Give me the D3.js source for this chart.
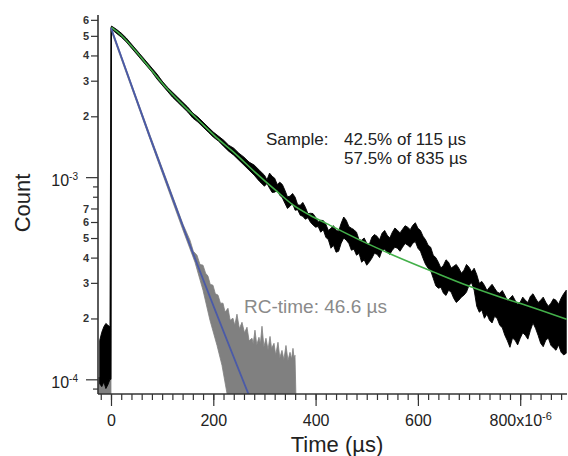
<!DOCTYPE html>
<html>
<head>
<meta charset="utf-8">
<title>Luminescence decay</title>
<script src="https://d3js.org/d3.v7.min.js"></script>
<style>
body{margin:0;background:#fff}
svg{font-family:"Liberation Sans",Arial,sans-serif}
</style>
</head>
<body>
<div id="chart"></div>
<script>
// ---- data (time in µs, counts in units of 10^-3) ----
var sampleTime = [-22,-18,-14,-10,-6,-2,0,1,10,20,30,40,50,60,70,80,90,100,110,120,130,140,150,160,170,180,190,200,
  210,220,230,240,250,260,270,280,290,
  300,305,310,315,320,325,330,335,340,345,350,355,360,365,370,375,380,385,390,395,400,405,410,415,420,425,430,435,440,445,
  450,455,460,465,470,475,480,485,490,495,500,505,510,515,520,525,530,535,540,545,550,555,560,565,570,575,580,585,590,595,
  600,605,610,615,620,625,630,635,640,645,650,655,660,665,670,675,680,685,690,695,700,705,710,715,720,725,730,735,740,745,
  750,755,760,765,770,775,780,785,790,795,800,805,810,815,820,825,830,835,840,845,850,855,860,865,870,875,880,885,890];
var sampleHigh = [0.156,0.171,0.182,0.189,0.185,0.182,5.45,5.59,5.40,5.16,4.876,4.554,4.254,3.973,3.711,3.464,3.235,2.987,2.790,2.635,2.490,2.352,2.222,2.075,1.982,1.872,1.768,1.671,
  1.596,1.525,1.440,1.391,1.314,1.256,1.187,1.147,1.083,
  1.023,0.97,1.047,1.01,0.988,0.92,0.944,0.92,0.862,0.80,0.805,0.83,0.796,0.73,0.726,0.75,0.710,0.66,0.663,0.66,0.633,0.60,0.612,0.61,0.585,0.545,0.559,0.575,0.5465,0.54,
  0.5914,0.635,0.612,0.57,0.559,0.55,0.534,0.49,0.4877,0.50,0.4713,0.465,0.5047,0.52,0.5104,0.49,0.528,0.545,0.5163,0.50,0.534,0.56,0.5465,0.53,0.5527,0.575,0.5655,0.55,0.578,0.595,
  0.559,0.545,0.5104,0.49,0.4607,0.45,0.4111,0.40,0.3795,0.355,0.3667,0.39,0.3795,0.355,0.3625,0.37,0.3544,0.335,0.3464,0.37,0.3584,0.34,0.3544,0.33,0.2987,0.305,0.292,0.275,0.2854,0.295,
  0.2822,0.27,0.2665,0.275,0.2606,0.245,0.2518,0.26,0.2461,0.235,0.2406,0.255,0.2461,0.24,0.2576,0.265,0.2518,0.24,0.2461,0.255,0.2406,0.23,0.2378,0.25,0.2461,0.235,0.2518,0.265,0.2758];
var sampleLow = [0.095,0.092,0.097,0.090,0.094,0.100,0.100,5.40,5.16,4.93,4.659,4.352,4.065,3.796,3.546,3.310,3.056,2.854,2.666,2.490,2.352,2.222,2.099,1.959,1.872,1.768,1.671,1.578,
  1.508,1.423,1.345,1.285,1.214,1.147,1.083,1.023,0.955,
  0.902,0.93,0.882,0.84,0.843,0.86,0.814,0.79,0.743,0.70,0.718,0.74,0.686,0.69,0.648,0.64,0.619,0.63,0.598,0.58,0.5655,0.57,0.534,0.55,0.5047,0.49,0.4451,0.46,0.4253,0.43,
  0.4713,0.50,0.4877,0.47,0.4351,0.44,0.411,0.42,0.3795,0.39,0.3667,0.38,0.3971,0.42,0.4157,0.40,0.4351,0.44,0.4253,0.415,0.4351,0.45,0.4451,0.43,0.4502,0.47,0.4607,0.45,0.4713,0.48,
  0.4451,0.43,0.3971,0.37,0.3544,0.345,0.3162,0.29,0.2822,0.285,0.2665,0.26,0.2758,0.27,0.2518,0.24,0.2461,0.255,0.2606,0.27,0.292,0.30,0.2758,0.23,0.2147,0.22,0.2004,0.21,0.1959,0.19,
  0.205,0.20,0.1851,0.18,0.1651,0.155,0.144,0.16,0.156,0.148,0.1596,0.17,0.1651,0.158,0.1748,0.19,0.1788,0.165,0.1508,0.145,0.156,0.16,0.1474,0.143,0.1392,0.148,0.1361,0.132,0.1345];

// RC reference trace (grey), upper and lower edge
var rcUpperTime = [-25,-0.5,0,76.2,140.8,154.4,161,168.1,174,179.9,185,189.6,194,199.4,204,209.2,214,219,223,228.7,233,238.5,242,246.3,251,256.1,261,265.9,270,
  275.7,278,281.5,285,289.3,292,295.2,299,303,307,310.9,314,318.7,322,326.5,330,334.3,338,342.1,346,350,353,355.8,358,359.7,361.7];
var rcUpper = [0.102,0.102,5.5,1.615,0.585,0.488,0.43,0.411,0.37,0.367,0.335,0.324,0.295,0.292,0.265,0.261,0.238,0.238,0.215,0.2246,0.196,0.2005,0.185,0.210,0.178,0.1915,0.170,0.181,0.155,
  0.1596,0.150,0.175,0.148,0.1614,0.150,0.183,0.145,0.1596,0.140,0.163,0.142,0.1507,0.132,0.1525,0.128,0.139,0.125,0.147,0.124,0.136,0.126,0.1423,0.127,0.1315,0.08];
var rcLowerTime = [-25,0,0.3,76.2,140.8,164.2,179.9,193.5,207.2,217,228.7,361.7];
var rcLower = [0.08,0.08,5.3,1.542,0.5465,0.3795,0.2758,0.1959,0.1474,0.1173,0.08,0.08];

// bi-exponential fit (green)
var fitTime = [1,21.5,43.6,76.2,108.9,140.8,174,205.3,239.1,281.5,324,356.4,389,421.7,486.8,551.9,630.1,695.4,760.5,825.6,891];
var fitValue = [5.50,4.99,4.34,3.46,2.75,2.27,1.88,1.578,1.334,1.059,0.852,0.727,0.648,0.589,0.488,0.411,0.340,0.292,0.2555,0.226,0.198];

// RC fit (blue)
var rcFitTime = [0,76.2,154.4,270];
var rcFitValue = [5.47,1.578,0.4607,0.083];

// axis ticks
var xMajorTicks = [0,200,400,600,800];
var xMajorLabels = ["0","200","400","600","800x10"];
var xMinorTicks = d3.range(-20, 881, 20);
var yDecadeTicks = [1e-4, 1e-3];
var yDecadeExp = ["-4", "-3"];
var yLabelTicks = [2e-4,3e-4,4e-4,5e-4,6e-4,7e-4,2e-3,3e-3,4e-3,5e-3,6e-3];
var yLabelText = ["2","3","4","5","6","7","2","3","4","5","6"];
var yBareTicks = [9e-5, 8e-4, 9e-4];

// ---- layout ----
var W = 568, H = 456;
var margin = {top: 15, right: 1, bottom: 62, left: 98},
    width = W - margin.left - margin.right,
    height = H - margin.top - margin.bottom;

var svg = d3.select("#chart").append("svg")
    .attr("width", W).attr("height", H);
var g = svg.append("g")
    .attr("transform", "translate(" + margin.left + "," + margin.top + ")");

var x = d3.scaleLinear().domain([-25.4, 891.5]).range([0, width]);
var y = d3.scaleLog().domain([8.46e-5, 6.34e-3]).range([height, 0]);

g.append("clipPath").attr("id", "plotclip")
  .append("rect").attr("x", 0).attr("y", -2).attr("width", width + 2).attr("height", height + 2);

var plot = g.append("g").attr("clip-path", "url(#plotclip)");
var line = d3.line();

// grey RC trace as filled band
var rcPts = rcUpperTime.map(function(t, i) { return [x(t), y(rcUpper[i] * 1e-3)]; });
var rcLowPts = rcLowerTime.map(function(t, i) { return [x(t), y(rcLower[i] * 1e-3)]; }).reverse();
plot.append("path")
  .attr("d", line(rcPts.concat(rcLowPts)) + "Z")
  .attr("fill", "#808080").attr("stroke", "#808080").attr("stroke-width", 0.8);

// black sample trace as filled band
var hi = sampleTime.map(function(t, i) { return [x(t), y(sampleHigh[i] * 1e-3)]; });
var lo = sampleTime.map(function(t, i) { return [x(t), y(sampleLow[i] * 1e-3)]; }).reverse();
plot.append("path")
  .attr("d", line(hi.concat(lo)) + "Z")
  .attr("fill", "#000").attr("stroke", "#000").attr("stroke-width", 0.9)
  .attr("stroke-linejoin", "round");

// green fit
plot.append("path")
  .datum(fitTime.map(function(t, i) { return [x(t), y(fitValue[i] * 1e-3)]; }))
  .attr("d", d3.line().curve(d3.curveMonotoneX))
  .attr("fill", "none").attr("stroke", "#43b04a").attr("stroke-width", 1.6);

// blue RC fit
plot.append("path")
  .datum(rcFitTime.map(function(t, i) { return [x(t), y(rcFitValue[i] * 1e-3)]; }))
  .attr("d", d3.line().curve(d3.curveMonotoneX))
  .attr("fill", "none").attr("stroke", "#4a5aa8").attr("stroke-width", 1.8);

// ---- axes ----
var axisColor = "#333";
function styleAxis(sel) {
  sel.selectAll("line").attr("stroke", axisColor).attr("stroke-width", 1.2);
  sel.selectAll("path").attr("stroke", axisColor).attr("stroke-width", 1.6);
}

var xg = g.append("g").attr("transform", "translate(0," + height + ")");
xg.append("g").call(d3.axisBottom(x).tickValues(xMinorTicks).tickSize(6).tickFormat("").tickSizeOuter(0))
  .call(styleAxis).select(".domain").remove();
var xMaj = xg.append("g").call(d3.axisBottom(x).tickValues(xMajorTicks).tickSize(12).tickPadding(9)
    .tickFormat(function(d, i) { return xMajorLabels[i]; }).tickSizeOuter(0))
  .call(styleAxis);
xMaj.selectAll("text").attr("font-size", 16).attr("fill", "#222").attr("font-family", null);
xMaj.selectAll("text").filter(function(d) { return d === 800; })
  .append("tspan").attr("dy", "-0.55em").attr("font-size", 11).text("-6");
xMaj.select(".domain").attr("d", "M0,0H" + width);

var yg = g.append("g");
yg.append("g").call(d3.axisLeft(y).tickValues(yBareTicks).tickSize(5).tickFormat("").tickSizeOuter(0))
  .call(styleAxis).select(".domain").remove();
var yLab = yg.append("g").call(d3.axisLeft(y).tickValues(yLabelTicks).tickSize(7).tickPadding(2)
    .tickFormat(function(d, i) { return yLabelText[i]; }).tickSizeOuter(0))
  .call(styleAxis);
yLab.select(".domain").remove();
yLab.selectAll("text").attr("font-size", 11).attr("font-weight", "bold").attr("fill", "#333").attr("font-family", null);
var yDec = yg.append("g").call(d3.axisLeft(y).tickValues(yDecadeTicks).tickSize(12).tickFormat("").tickSizeOuter(0))
  .call(styleAxis);
yDec.select(".domain").attr("d", "M0," + height + "V0");
var decText = yDec.selectAll("text.dec").data(yDecadeTicks).join("text")
  .attr("class", "dec")
  .attr("x", -20).attr("y", function(d) { return y(d) + 9; })
  .attr("text-anchor", "end").attr("fill", "#222").attr("font-size", 16);
decText.append("tspan").text("10");
decText.append("tspan").attr("dy", "-0.6em").attr("font-size", 10)
  .text(function(d, i) { return yDecadeExp[i]; });

// ---- labels ----
svg.append("text")
  .attr("x", 337).attr("y", 452)
  .attr("text-anchor", "middle").attr("font-size", 22).attr("fill", "#222")
  .text("Time (\u00b5s)");

svg.append("text")
  .attr("transform", "translate(30,203) rotate(-90)")
  .attr("text-anchor", "middle").attr("font-size", 22).attr("fill", "#222")
  .text("Count");

var note = svg.append("g").attr("font-size", 17).attr("fill", "#222");
note.append("text").attr("x", 266).attr("y", 145).text("Sample:");
note.append("text").attr("x", 344).attr("y", 145).text("42.5% of 115 \u00b5s");
note.append("text").attr("x", 344).attr("y", 164).text("57.5% of 835 \u00b5s");

svg.append("text")
  .attr("x", 244).attr("y", 313)
  .attr("font-size", 19).attr("fill", "#8a8a8a")
  .text("RC-time: 46.6 \u00b5s");
</script>
</body>
</html>
